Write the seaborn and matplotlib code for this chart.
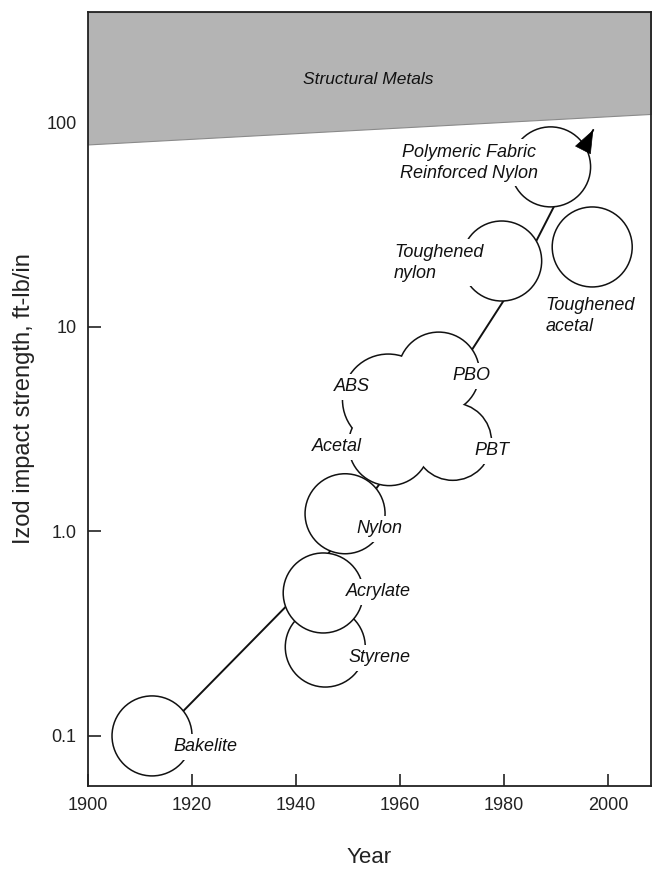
import numpy as np
import matplotlib
matplotlib.use("Agg")
import matplotlib.pyplot as plt
import matplotlib.transforms as mtransforms
from matplotlib.patches import Circle
from matplotlib.ticker import NullLocator
import seaborn as sns

# ---------------- data ----------------
materials = ["Bakelite", "Styrene", "Acrylate", "Nylon",
             "Toughened nylon", "Toughened acetal",
             "Polymeric Fabric Reinforced Nylon"]
mat_year = [1912.4, 1945.7, 1945.3, 1949.5, 1979.6, 1997.0, 1989.0]
mat_strength = [0.10, 0.272, 0.50, 1.22, 21.0, 24.6, 60.6]

# the engineering-plastics "cloud" (ABS, Acetal, PBO, PBT)
cloud_year = [1957.8, 1967.5, 1970.2, 1958.0]
cloud_strength = [4.40, 5.96, 2.75, 2.65]

labels = ["Bakelite", "Styrene", "Acrylate", "Nylon", "ABS", "Acetal",
          "PBO", "PBT", "Toughened\nnylon", "Toughened\nacetal",
          "Polymeric Fabric\nReinforced Nylon"]
label_year = [1922.7, 1956.2, 1956.0, 1956.2, 1950.9, 1948.0,
              1973.7, 1977.7, 1958.9, 1988.0, 1973.3]
label_strength = [0.0884, 0.2406, 0.506, 1.028, 5.09, 2.59,
                  5.76, 2.48, 20.6, 11.3, 63.4]
label_align = ["center", "center", "center", "center", "center", "center",
               "center", "center", "left", "left", "center"]

trend_year = [1912.4, 1940.7, 1965.2, 1981.9, 1997.2]
trend_strength = [0.0925, 0.50, 3.51, 16.0, 91.9]

metals_year = [1900, 2008.3]
metals_low = [78, 110]
metals_high = 346.6

x_ticks = [1900, 1920, 1940, 1960, 1980, 2000]
y_ticks = [0.1, 1.0, 10, 100]
y_ticklabels = ["0.1", "1.0", "10", "100"]

# ---------------- style ----------------
sns.set_style("ticks")
plt.rcParams["font.family"] = ["Liberation Sans", "DejaVu Sans"]

DPI = 100
fig = plt.figure(figsize=(6.53, 8.69), dpi=DPI)
ax = fig.add_axes([87.5 / 653, 1 - 786 / 869, (651 - 87.5) / 653, (786 - 12) / 869])
ax.set_yscale("log")
ax.set_xlim(1900, 2008.3)
ax.set_ylim(0.0569, 346.6)

# structural metals band
ax.fill_between(metals_year, metals_low, [metals_high] * 2,
                facecolor="#b4b4b4", edgecolor="#8a8a8a", lw=0.8, zorder=1)
ax.text(1953.9, 163, "Structural Metals", style="italic", fontsize=12.5,
        ha="center", va="center", color="#111111", zorder=2)

# trend line
sns.lineplot(x=trend_year, y=trend_strength, sort=False, estimator=None,
             color="#111111", lw=1.4, ax=ax, zorder=2)

R = 40  # circle radius in pixels
LW = 1.1


def circ_transform(x, y):
    return fig.dpi_scale_trans + mtransforms.ScaledTranslation(x, y, ax.transData)


def add_circle(x, y, r_px, z, edge=True, lw=LW):
    c = Circle((0, 0), r_px / DPI, transform=circ_transform(x, y),
               facecolor="white", edgecolor="#111111" if edge else "none",
               lw=lw if edge else 0, zorder=z)
    ax.add_patch(c)


zorders = [3, 3, 4, 5, 5, 5, 5]
for x, y, z in zip(mat_year, mat_strength, zorders):
    add_circle(x, y, R, z)

# cloud: union outline (thick edges then white fills on top)
cloud_r = [45, 40, 38, 40]
for x, y, r in zip(cloud_year, cloud_strength, cloud_r):
    add_circle(x, y, r, 6, lw=2 * LW)
for x, y, r in zip(cloud_year, cloud_strength, cloud_r):
    add_circle(x, y, r, 6.5, edge=False)

for t, x, y, ha in zip(labels, label_year, label_strength, label_align):
    ax.text(x, y, t, style="italic", fontsize=13, ha=ha, va="center",
            multialignment=ha, linespacing=1.3, zorder=10, color="#111111",
            bbox=dict(boxstyle="square,pad=0.25", fc="white", ec="none"))

# arrowhead at end of trend line
p3 = ax.transData.transform((trend_year[-2], trend_strength[-2]))
p4 = ax.transData.transform((trend_year[-1], trend_strength[-1]))
u = (p4 - p3) / np.hypot(*(p4 - p3))
base = ax.transData.inverted().transform(p4 - u * 22)
ax.annotate("", xy=(trend_year[-1], trend_strength[-1]), xytext=tuple(base),
            arrowprops=dict(arrowstyle="-|>,head_length=1.55,head_width=0.6",
                            mutation_scale=10, color="black", lw=0.5,
                            shrinkA=0, shrinkB=0), zorder=11)

# axes styling
ax.set_xticks(x_ticks)
ax.set_yticks(y_ticks)
ax.set_yticklabels(y_ticklabels)
ax.yaxis.set_minor_locator(NullLocator())
ax.tick_params(direction="in", length=9, width=1.2, labelsize=13, pad=8,
               colors="#222222")
for s in ax.spines.values():
    s.set_visible(True)
    s.set_linewidth(1.3)
    s.set_color("#222222")
ax.set_xlabel("Year", fontsize=16, labelpad=24, color="#222222")
ax.set_ylabel("Izod impact strength, ft-lb/in", fontsize=17, labelpad=8,
              color="#222222")
ax.set_xlim(1900, 2008.3)
ax.set_ylim(0.0569, 346.6)

fig.savefig("out.png", dpi=DPI)
